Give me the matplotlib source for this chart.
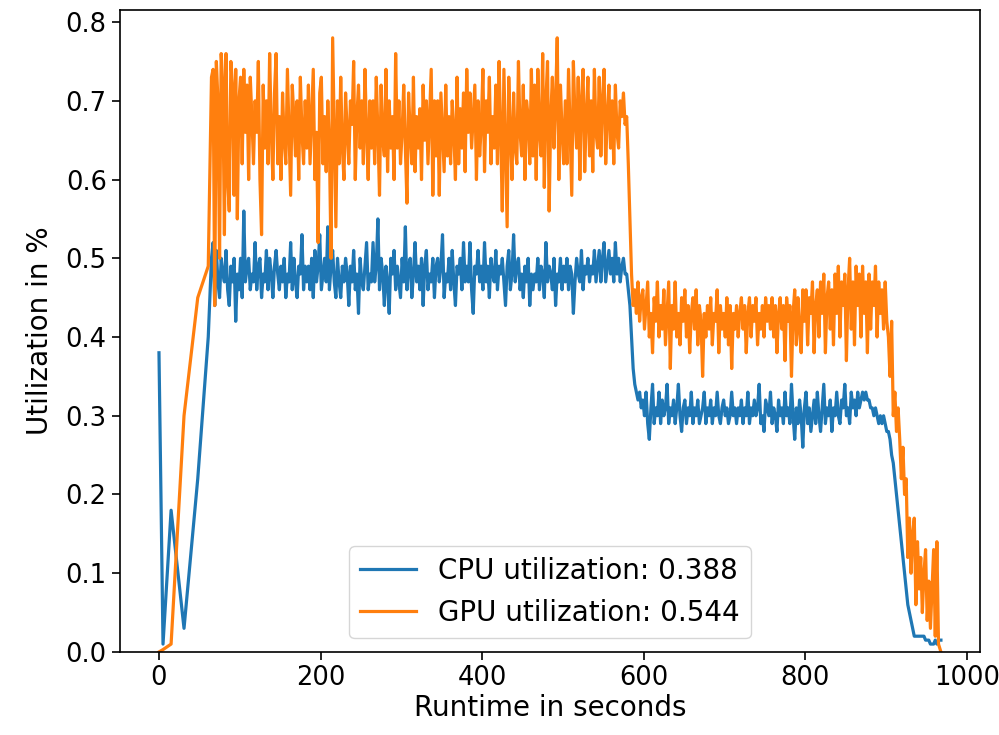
import matplotlib
matplotlib.use("Agg")
import matplotlib.pyplot as plt
import numpy as np

# Sample times (seconds): sparse start, then every 2 s
t_start = [0, 5, 15, 31, 48, 61]
t_regular = list(range(65, 966, 2))
t_end = [968]
time_s = t_start + t_regular + t_end

# Values in percent (divided by 100 below)
cpu_start = [38, 1, 18, 3, 22, 40]
gpu_start = [0, 0.3, 1, 30, 45, 49]

gpu_high = [
    73, 74, 44, 75, 70, 50, 76, 72, 53, 76, 60, 56, 75, 72, 58, 74, 55, 70, 73, 62,
    74, 66, 72, 60, 73, 68, 62, 70, 66, 75, 60, 53, 72, 64, 70, 62, 76, 66, 60, 71,
    76, 62, 68, 60, 71, 65, 62, 74, 66, 58, 72, 68, 63, 70, 60, 73, 66, 62, 70, 64,
    72, 62, 68, 74, 60, 66, 52, 71, 73, 62, 68, 61, 70, 64, 50, 78, 66, 54, 70, 62,
    73, 64, 60, 71, 66, 62, 70, 67, 75, 60, 68, 72, 64, 70, 62, 74, 66, 60, 70, 64,
    70, 62, 73, 66, 58, 72, 65, 63, 74, 61, 70, 64, 68, 60, 76, 64, 70, 62, 66, 72,
    64, 57, 71, 66, 62, 73, 61, 68, 64, 69, 60, 72, 65, 70, 62, 68, 74, 58, 70, 63,
    70, 58, 71, 66, 61, 72, 63, 68, 62, 70, 66, 60, 73, 62, 69, 64, 71, 61, 74, 66,
    71, 64, 68, 72, 60, 70, 63, 67, 74, 61, 70, 66, 73, 62, 68, 64, 72, 62, 75, 66,
    56, 74, 64, 54, 73, 66, 60, 71, 64, 62, 75, 66, 63, 72, 60, 70, 68, 62, 74, 63,
    72, 60, 74, 66, 63, 76, 59, 70, 75, 56, 68, 73, 64, 70, 78, 60, 72, 66, 62, 70,
    62, 74, 66, 58, 75, 68, 64, 73, 60, 70, 74, 61, 68, 73, 63, 70, 61, 74, 66, 64,
    73, 63, 70, 74, 62, 68, 72, 64, 70, 62, 72, 66, 64, 70, 68, 71, 67,
]
cpu_high = [
    50, 52, 44, 51, 47, 45, 50, 48, 47, 51, 46, 44, 49, 47, 50, 42, 48, 46, 50, 45,
    56, 47, 49, 50, 46, 48, 47, 52, 46, 49, 50, 45, 48, 47, 51, 46, 50, 48, 45, 49,
    51, 48, 46, 49, 47, 50, 45, 48, 47, 52, 46, 50, 47, 45, 49, 48, 53, 46, 49, 47,
    49, 46, 50, 45, 51, 47, 49, 53, 46, 48, 50, 47, 54, 46, 49, 51, 47, 45, 50, 47,
    45, 49, 47, 50, 48, 44, 49, 47, 51, 46, 48, 43, 50, 47, 46, 49, 52, 46, 48, 47,
    52, 47, 49, 55, 46, 50, 48, 44, 49, 47, 43, 50, 48, 51, 46, 49, 47, 45, 50, 47,
    54, 46, 49, 50, 45, 48, 52, 47, 49, 46, 50, 44, 49, 51, 46, 48, 47, 50, 45, 49,
    50, 47, 49, 53, 45, 48, 47, 50, 46, 51, 47, 44, 49, 48, 50, 46, 52, 47, 49, 47,
    52, 46, 43, 49, 48, 51, 47, 49, 46, 52, 47, 49, 45, 50, 48, 47, 51, 46, 49, 48,
    50, 47, 44, 49, 51, 46, 48, 53, 47, 49, 50, 46, 48, 45, 49, 47, 50, 44, 48, 46,
    48, 47, 50, 46, 49, 48, 45, 52, 47, 49, 48, 46, 50, 44, 48, 47, 50, 46, 49, 47,
    50, 46, 49, 48, 43, 47, 50, 48, 47, 51, 46, 49, 48, 50, 47, 49, 48, 51, 47, 49,
    51, 47, 50, 52, 47, 49, 51, 48, 50, 47, 52, 48, 50, 47, 49, 50, 48,
]

gpu_drop = [68, 62, 55, 48, 44, 46, 43, 47, 42, 45]
cpu_drop = [48, 46, 44, 40, 36, 34, 33, 32, 33, 31]

gpu_low = [
    46, 41, 44, 47, 40, 43, 38, 45, 42, 47, 40, 44, 41, 46, 39, 43, 47, 36, 44, 41,
    47, 40, 43, 39, 45, 42, 46, 40, 44, 38, 43, 45, 41, 46, 39, 44, 42, 35, 43, 40,
    44, 41, 45, 39, 43, 42, 46, 38, 44, 41, 43, 40, 45, 39, 44, 36, 43, 41, 44, 40,
    43, 45, 41, 44, 38, 43, 45, 40, 44, 42, 45, 39, 43, 41, 44, 40, 45, 42, 44, 41,
    45, 40, 44, 38, 43, 45, 41, 44, 37, 45, 42, 44, 35, 43, 46, 39, 45, 41, 38, 46,
    42, 46, 39, 45, 43, 47, 38, 44, 46, 40, 47, 43, 48, 38, 45, 47, 41, 46, 39, 48,
    43, 49, 40, 47, 44, 48, 37, 46, 50, 41, 47, 39, 49, 44, 48, 40, 49, 43, 47, 38,
    48, 41, 47, 44, 49, 40, 47, 43, 46, 41, 47, 42,
]
cpu_low = [
    32, 30, 33, 29, 27, 31, 34, 29, 31, 30, 33, 29, 32, 30, 31, 34, 29, 31, 30, 32,
    29, 31, 34, 30, 28, 31, 32, 29, 31, 30, 33, 29, 31, 30, 32, 29, 30, 31, 33, 29,
    31, 30, 32, 29, 31, 30, 33, 30, 29, 31, 32, 30, 31, 29, 30, 33, 30, 31, 29, 31,
    30, 32, 29, 31, 30, 33, 29, 31, 30, 32, 30, 31, 34, 29, 30, 28, 32, 31, 30, 33,
    29, 31, 30, 28, 32, 30, 31, 29, 33, 30, 31, 29, 34, 30, 27, 31, 29, 32, 30, 26,
    31, 33, 29, 31, 28, 30, 32, 29, 33, 30, 28, 31, 34, 29, 31, 30, 32, 28, 31, 30,
    33, 30, 29, 32, 31, 34, 30, 31, 29, 33, 31, 32, 30, 33, 31, 32, 33, 32, 33, 32,
    32, 31, 31, 30, 31, 30, 29, 30, 29, 30, 29, 28,
]

gpu_tail = [40, 35, 42, 30, 33, 28, 31, 27, 22, 26, 20, 22, 12, 17, 10, 15,
            17, 6, 14, 8, 12, 5, 10, 13, 4, 9, 3, 8, 13, 2, 14, 1, 0]
cpu_tail = [28, 27, 25, 24, 22, 20, 18, 16, 14, 12, 10, 8, 6, 5, 4, 3,
            2, 2, 2, 2, 2, 2, 2, 1.5, 1.5, 1.5, 1, 1, 1, 1.5, 1, 1.5, 1.5]

cpu_util = np.array(cpu_start + cpu_high + cpu_drop + cpu_low + cpu_tail) / 100.0
gpu_util = np.array(gpu_start + gpu_high + gpu_drop + gpu_low + gpu_tail) / 100.0

cpu_label = "CPU utilization: 0.388"
gpu_label = "GPU utilization: 0.544"

FS = 20
TS = 18.5
fig = plt.figure(figsize=(9.99, 7.35), dpi=100)
ax = fig.add_axes([0.12, 0.113, 0.861, 0.873])
ax.plot(time_s, cpu_util, color="#1f77b4", lw=2.3, label=cpu_label)
ax.plot(time_s, gpu_util, color="#ff7f0e", lw=2.3, label=gpu_label)
ax.set_ylim(0, 0.815)
ax.set_xlabel("Runtime in seconds", fontsize=FS, labelpad=2)
ax.set_ylabel("Utilization in %", fontsize=FS, labelpad=8)
ax.tick_params(labelsize=TS, length=6, width=1.2)
for s in ax.spines.values():
    s.set_linewidth(1.2)
ax.legend(loc="lower center", fontsize=FS)
fig.savefig("out.png", dpi=100)
